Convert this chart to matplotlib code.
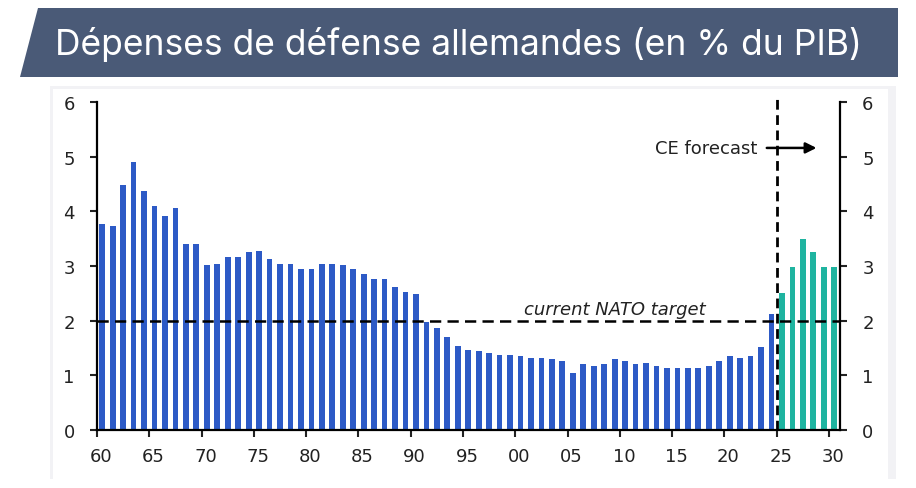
import numpy as np
import matplotlib.pyplot as plt
import matplotlib.transforms as mtransforms
from matplotlib.patches import Polygon, Rectangle

# German defence spending, % of GDP
hist_years = list(range(1960, 2025))
hist_values = [3.77, 3.74, 4.49, 4.91, 4.37, 4.10, 3.92, 4.07, 3.40, 3.40,
               3.01, 3.04, 3.16, 3.16, 3.26, 3.28, 3.13, 3.04, 3.04, 2.95,
               2.95, 3.04, 3.04, 3.01, 2.94, 2.85, 2.76, 2.76, 2.61, 2.53,
               2.49, 1.97, 1.87, 1.70, 1.54, 1.47, 1.44, 1.40, 1.38, 1.38,
               1.35, 1.32, 1.32, 1.30, 1.27, 1.05, 1.20, 1.17, 1.20, 1.30,
               1.27, 1.20, 1.23, 1.17, 1.14, 1.14, 1.14, 1.14, 1.17, 1.27,
               1.36, 1.32, 1.36, 1.51, 2.12]
fc_years = list(range(2025, 2031))
fc_values = [2.51, 2.98, 3.49, 3.26, 2.98, 2.98]

xticks = list(range(1960, 2031, 5))
xticklabels = ["%02d" % (y % 100) for y in xticks]
yticks = [0, 1, 2, 3, 4, 5, 6]
nato_target = 2
forecast_start = 2025

title = "Dépenses de défense allemandes (en % du PIB)"

W, H = 916, 489
fig = plt.figure(figsize=(W / 100, H / 100), dpi=100)
fig.patch.set_facecolor("white")
plt.rcParams["font.family"] = "DejaVu Sans"


def px(x, y):
    return (x / W, 1 - y / H)


# banner
banner = Polygon([px(38, 9), px(898, 9), px(898, 78), px(20, 78)],
                 closed=True, transform=fig.transFigure,
                 facecolor="#4a5a77", edgecolor="none")
fig.patches.append(banner)
fig.text(55 / W, 1 - 44 / H, title, color="white", fontsize=25.5,
         family="Inter", ha="left", va="center")

# light panel behind the chart
fig.patches.append(Rectangle(px(50, 480), 846 / W, 393 / H, transform=fig.transFigure,
                             facecolor="#f2f2f5", edgecolor="none", zorder=-2))
fig.patches.append(Rectangle(px(53, 480), 835 / W, 390 / H, transform=fig.transFigure,
                             facecolor="white", edgecolor="none", zorder=-1))

ax = fig.add_axes([97 / W, 58 / H, 743 / W, 328 / H])
ax.set_facecolor("none")

blue = "#2d5ac6"
teal = "#1fb4a0"
ax.bar(np.array(hist_years) + 0.5, hist_values, width=0.55, color=blue, zorder=2)
ax.bar(np.array(fc_years) + 0.5, fc_values, width=0.55, color=teal, zorder=2)

ax.axhline(nato_target, color="black", lw=1.8, dashes=(4.5, 2.5), zorder=3)
ax.plot([forecast_start, forecast_start], [0, 6.15], color="black", lw=2,
        dashes=(3.5, 2), zorder=4, clip_on=False)

ax.text(2009.55, 2.12, "current NATO target", style="italic", fontsize=13,
        ha="center", va="baseline", color="#222222")
ax.text(2023.13, 5.16, "CE forecast", fontsize=13,
        ha="right", va="center", color="#222222")
ax.annotate("", xy=(2028.8, 5.16), xytext=(2024.05, 5.16),
            arrowprops=dict(arrowstyle="-|>", color="black", lw=1.8,
                            mutation_scale=16, shrinkA=0, shrinkB=0))

ax.set_xlim(1960, 2031.05)
ax.set_ylim(0, 6)
ax.set_xticks(xticks)
ax.set_xticklabels(xticklabels)
ax.set_yticks(yticks)

ax.spines["top"].set_visible(False)
for s in ["left", "right", "bottom"]:
    ax.spines[s].set_linewidth(1.6)

ax.tick_params(axis="both", direction="out", length=5, width=1.5,
               labelsize=13, colors="#222222")
ax.tick_params(axis="y", pad=11, left=True, right=True,
               labelleft=True, labelright=True)
ax.tick_params(axis="x", pad=7)

# x labels sit a few pixels right of their ticks in the original
shift = mtransforms.ScaledTranslation(4 / 100, 0, fig.dpi_scale_trans)
for lab in ax.get_xticklabels():
    lab.set_transform(lab.get_transform() + shift)

fig.savefig("out.png", dpi=100)
